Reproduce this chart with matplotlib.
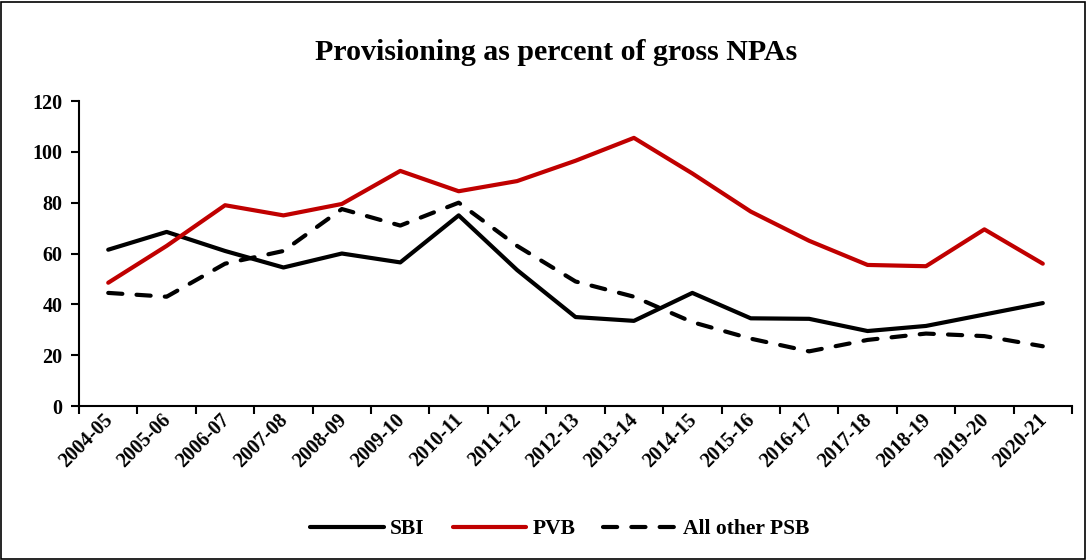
import numpy as np
import matplotlib.pyplot as plt
from matplotlib.patches import Rectangle
import matplotlib.transforms as mtransforms

years = ['2004-05', '2005-06', '2006-07', '2007-08', '2008-09', '2009-10',
         '2010-11', '2011-12', '2012-13', '2013-14', '2014-15', '2015-16',
         '2016-17', '2017-18', '2018-19', '2019-20', '2020-21']
sbi = [61.5, 68.5, 61, 54.5, 60, 56.5, 75, 53.5, 35, 33.5, 44.5, 34.5, 34.3, 29.5, 31.5, 36, 40.5]
pvb = [48.5, 63, 79, 75, 79.5, 92.5, 84.5, 88.5, 96.5, 105.5, 91.5, 76.5, 65, 55.5, 55, 69.5, 56]
other_psb = [44.5, 43, 56, 61, 77.5, 71, 80, 63, 49, 43, 33, 26.5, 21.5, 26, 28.5, 27.5, 23.5]

plt.rcParams['font.family'] = ['Liberation Serif', 'DejaVu Serif']
plt.rcParams['font.weight'] = 'bold'

fig = plt.figure(figsize=(10.87, 5.6), dpi=100)
ax = fig.add_axes([0.0727, 0.275, 0.9135, 0.5446])

x = np.arange(len(years)) + 0.5
ax.plot(x, sbi, color='black', lw=3.0, solid_capstyle='round', label='SBI')
ax.plot(x, pvb, color='#C00000', lw=3.0, solid_capstyle='round', label='PVB')
ax.plot(x, other_psb, color='black', lw=3.0, dashes=(3.4, 3.4), dash_capstyle='round',
        label='All other PSB')

ax.set_xlim(0, len(years))
ax.set_ylim(0, 120)
ax.set_yticks(np.arange(0, 121, 20))
ax.set_xticks(np.arange(0, len(years) + 1))
ax.set_xticklabels([])
ax.set_xticks(x, minor=True)
ax.set_xticklabels(years, minor=True, rotation=45, ha='right', va='top',
                   rotation_mode='anchor', fontsize=14.5, fontweight='bold')
ax.tick_params(axis='x', which='minor', length=0, pad=3)
ax.tick_params(axis='x', which='major', direction='out', length=6, width=1.5)
ax.tick_params(axis='y', direction='out', length=6, width=1.5, labelsize=14.5, pad=6)
for lab in ax.get_yticklabels():
    lab.set_fontweight('bold')
offset = mtransforms.ScaledTranslation(-4 / 72, 0, fig.dpi_scale_trans)
for lab in ax.xaxis.get_minorticklabels():
    lab.set_transform(lab.get_transform() + offset)

for s in ['top', 'right']:
    ax.spines[s].set_visible(False)
for s in ['left', 'bottom']:
    ax.spines[s].set_linewidth(1.5)

fig.text(0.512, 0.907, 'Provisioning as percent of gross NPAs', ha='center', va='center',
         fontsize=21.5, fontweight='bold')

leg = fig.legend(loc='center', bbox_to_anchor=(0.515, 0.055), ncol=3, frameon=False,
                 prop={'size': 15.5, 'weight': 'bold'}, handlelength=3.4,
                 columnspacing=1.3, handletextpad=0.3)

fig.patches.append(Rectangle((0.001, 0.002), 0.997, 0.995, transform=fig.transFigure,
                             fill=False, edgecolor='black', lw=1.2))

fig.savefig('out.png', dpi=100)
